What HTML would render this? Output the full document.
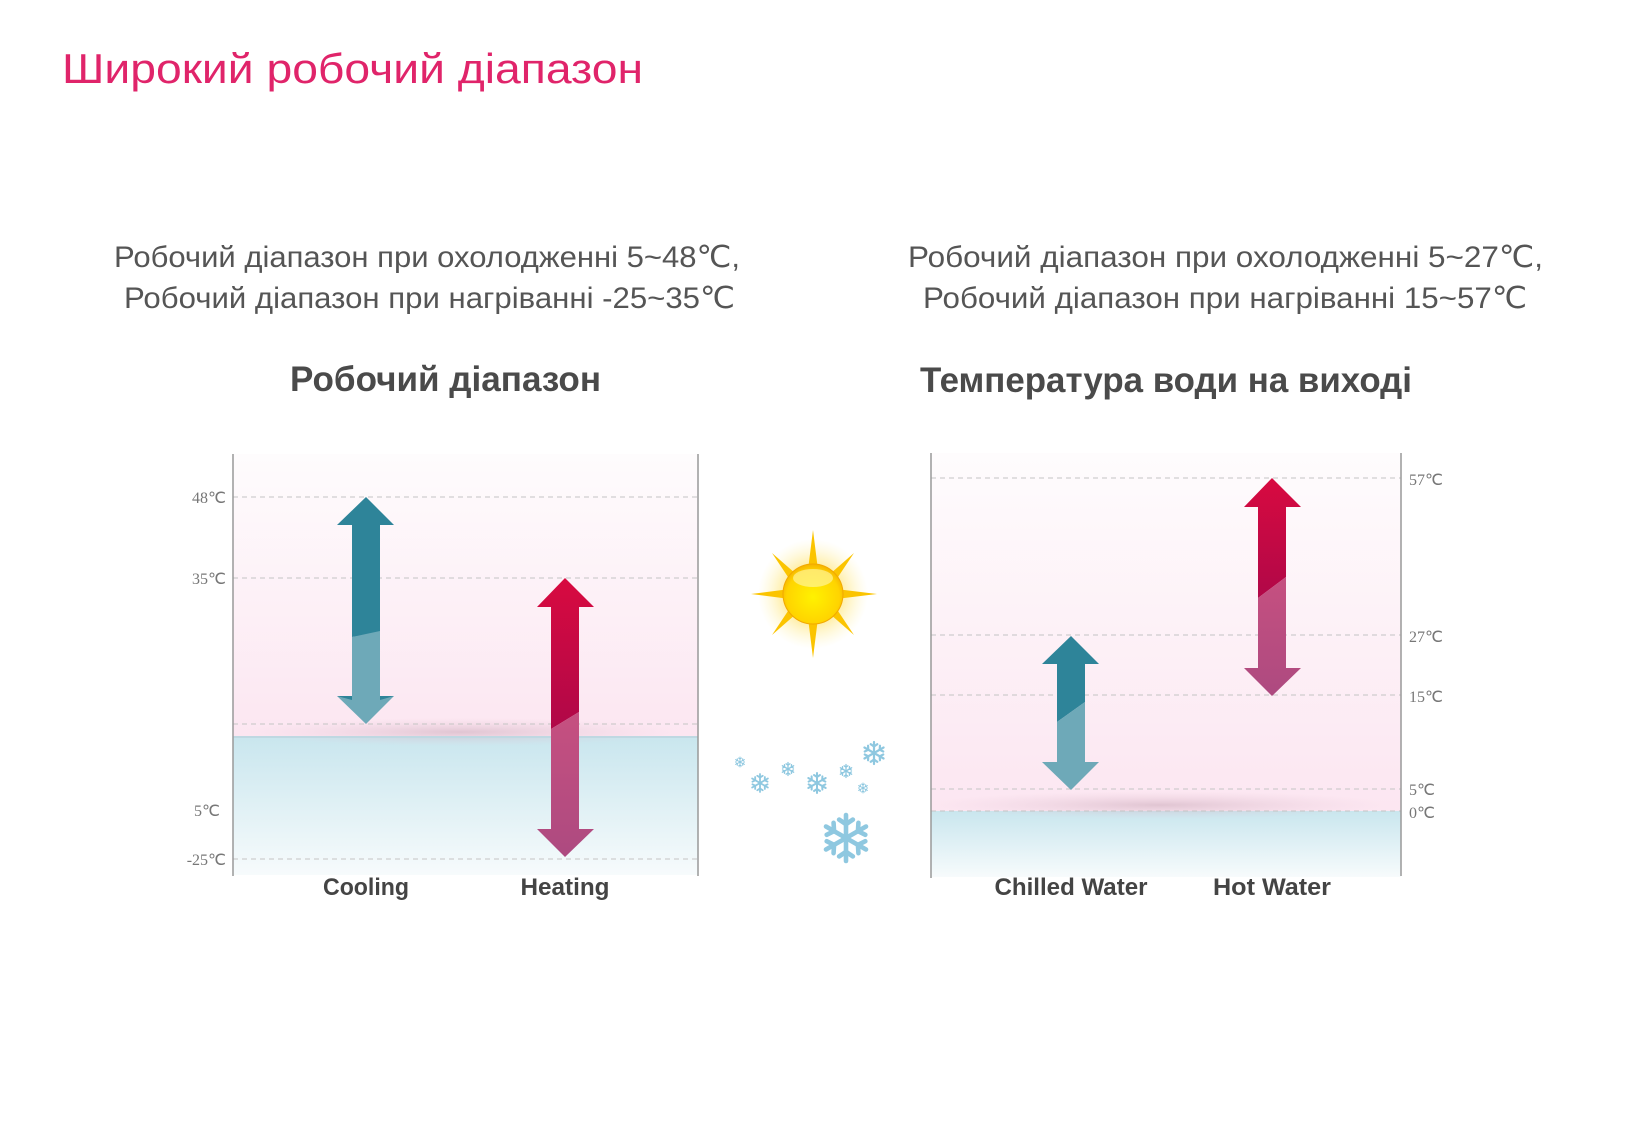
<!DOCTYPE html>
<html><head><meta charset="utf-8"><style>
html,body{margin:0;padding:0;background:#fff;}
svg{display:block;}
</style></head><body>
<svg width="1625" height="1125" viewBox="0 0 1625 1125" xmlns="http://www.w3.org/2000/svg">
<defs>
<linearGradient id="pink" x1="0" y1="0" x2="0" y2="1">
<stop offset="0" stop-color="#fefcfd"/><stop offset="1" stop-color="#fce6f1"/></linearGradient>
<linearGradient id="blue" x1="0" y1="0" x2="0" y2="1">
<stop offset="0" stop-color="#c9e6ee"/><stop offset="1" stop-color="#f7fbfc"/></linearGradient>
<radialGradient id="shadow" cx="0.5" cy="0.5" r="0.5">
<stop offset="0" stop-color="#c9a9b8" stop-opacity="0.55"/><stop offset="1" stop-color="#e9c9d8" stop-opacity="0"/></radialGradient>
<radialGradient id="sunglow" cx="0.5" cy="0.5" r="0.5">
<stop offset="0.45" stop-color="#ffe680" stop-opacity="0.9"/><stop offset="1" stop-color="#fff6c0" stop-opacity="0"/></radialGradient>
<radialGradient id="suncore" cx="0.5" cy="0.55" r="0.55">
<stop offset="0" stop-color="#fff200"/><stop offset="0.8" stop-color="#ffd400"/><stop offset="1" stop-color="#f5b400"/></radialGradient>
<linearGradient id="hotTop" x1="0" y1="0" x2="0" y2="1"><stop offset="0" stop-color="#d80a40"/><stop offset="1" stop-color="#b00848"/></linearGradient>
<linearGradient id="hotBot" x1="0" y1="0" x2="0" y2="1"><stop offset="0" stop-color="#c65080"/><stop offset="1" stop-color="#ad4a80"/></linearGradient>
<g id="flake" stroke="#8fc8e0" stroke-width="2" stroke-linecap="round" fill="none">
<line x1="0" y1="-10" x2="0" y2="10"/><line x1="-8.7" y1="-5" x2="8.7" y2="5"/><line x1="-8.7" y1="5" x2="8.7" y2="-5"/>
<path d="M-3 -8 L0 -6 L3 -8 M-3 8 L0 6 L3 8 M-8.4 -1.4 L-5.2 -3 L-5.4 -6.6 M8.4 1.4 L5.2 3 L5.4 6.6 M-8.4 1.4 L-5.2 3 L-5.4 6.6 M8.4 -1.4 L5.2 -3 L5.4 -6.6"/>
</g>
</defs>

<text x="62" y="83" font-family="Liberation Sans, sans-serif" font-size="42" fill="#e0246a" textLength="581" lengthAdjust="spacingAndGlyphs">Широкий робочий діапазон</text>

<g font-family="Liberation Sans, sans-serif" font-size="30" fill="#555">
<text x="114" y="267" textLength="626" lengthAdjust="spacingAndGlyphs">Робочий діапазон при охолодженні 5~48℃,</text>
<text x="124" y="308" textLength="611" lengthAdjust="spacingAndGlyphs">Робочий діапазон при нагріванні -25~35℃</text>
<text x="908" y="267" textLength="635" lengthAdjust="spacingAndGlyphs">Робочий діапазон при охолодженні 5~27℃,</text>
<text x="923" y="308" textLength="604" lengthAdjust="spacingAndGlyphs">Робочий діапазон при нагріванні 15~57℃</text>
</g>
<g font-family="Liberation Sans, sans-serif" font-size="35" font-weight="bold" fill="#4a4a4a">
<text x="290" y="391" textLength="311" lengthAdjust="spacingAndGlyphs">Робочий діапазон</text>
<text x="920" y="392" textLength="492" lengthAdjust="spacingAndGlyphs">Температура води на виході</text>
</g>

<!-- Left chart -->
<rect x="233" y="454" width="465" height="283" fill="url(#pink)"/>
<rect x="233" y="737" width="465" height="138" fill="url(#blue)"/>
<ellipse cx="460" cy="732" rx="220" ry="14" fill="url(#shadow)"/>
<line x1="233" y1="737" x2="698" y2="737" stroke="#bfd8e2" stroke-width="2"/>
<g stroke="#c4c4c4" stroke-dasharray="5,4" stroke-width="1">
<line x1="233" y1="497" x2="698" y2="497"/><line x1="233" y1="578" x2="698" y2="578"/>
<line x1="233" y1="724" x2="698" y2="724"/><line x1="233" y1="859" x2="698" y2="859"/>
</g>
<line x1="233" y1="454" x2="233" y2="876" stroke="#999" stroke-width="1.5"/>
<line x1="698" y1="454" x2="698" y2="876" stroke="#999" stroke-width="1.5"/>
<g font-family="Liberation Serif, serif" font-size="16" fill="#777" text-anchor="end">
<text x="226" y="503">48℃</text><text x="226" y="584">35℃</text>
<text x="220" y="816">5℃</text><text x="226" y="865">-25℃</text>
</g>
<!-- cooling arrow -->
<polygon points="366,497 394,525 380,525 380,633 352,637 352,525 337,525" fill="#2e8499"/>
<polygon points="352,637 380,631 380,696 394,696 366,724 337,696 352,696" fill="#6ea9b8"/>
<polygon points="337,696 352,696 352,700" fill="#2e8499"/><polygon points="394,696 380,696 380,700" fill="#2e8499"/>
<!-- heating arrow -->
<polygon points="565,578 594,607 579,607 579,712 551,729 551,607 537,607" fill="url(#hotTop)"/>
<polygon points="551,729 579,712 579,829 594,829 565,857 537,829 551,829" fill="url(#hotBot)"/>
<g font-family="Liberation Sans, sans-serif" font-size="24" font-weight="bold" fill="#444" text-anchor="middle">
<text x="366" y="895" textLength="86" lengthAdjust="spacingAndGlyphs">Cooling</text>
<text x="565" y="895" textLength="89" lengthAdjust="spacingAndGlyphs">Heating</text>
<text x="1071" y="895" textLength="153" lengthAdjust="spacingAndGlyphs">Chilled Water</text>
<text x="1272" y="895" textLength="118" lengthAdjust="spacingAndGlyphs">Hot Water</text>
</g>

<!-- Right chart -->
<rect x="931" y="453" width="470" height="358" fill="url(#pink)"/>
<rect x="931" y="811" width="470" height="66" fill="url(#blue)"/>
<ellipse cx="1160" cy="805" rx="230" ry="14" fill="url(#shadow)"/>
<g stroke="#c4c4c4" stroke-dasharray="5,4" stroke-width="1">
<line x1="931" y1="478" x2="1401" y2="478"/><line x1="931" y1="635" x2="1401" y2="635"/>
<line x1="931" y1="695" x2="1401" y2="695"/><line x1="931" y1="789" x2="1401" y2="789"/>
<line x1="931" y1="811" x2="1401" y2="811"/>
</g>
<line x1="931" y1="453" x2="931" y2="878" stroke="#999" stroke-width="1.5"/>
<line x1="1401" y1="453" x2="1401" y2="876" stroke="#999" stroke-width="1.5"/>
<g font-family="Liberation Serif, serif" font-size="16" fill="#777">
<text x="1409" y="485">57℃</text><text x="1409" y="642">27℃</text>
<text x="1409" y="702">15℃</text><text x="1409" y="795">5℃</text><text x="1409" y="818">0℃</text>
</g>
<!-- chilled arrow -->
<polygon points="1071,636 1099,664 1085,664 1085,702 1057,722 1057,664 1042,664" fill="#2e8499"/>
<polygon points="1057,722 1085,702 1085,762 1099,762 1071,790 1042,762 1057,762" fill="#6ea9b8"/>
<!-- hot arrow -->
<polygon points="1272,478 1301,507 1286,507 1286,577 1258,598 1258,507 1244,507" fill="url(#hotTop)"/>
<polygon points="1258,598 1286,577 1286,668 1301,668 1272,696 1244,668 1258,668" fill="url(#hotBot)"/>

<!-- Sun -->
<circle cx="813" cy="594" r="55" fill="url(#sunglow)"/>
<g fill="#fbc400">
<polygon points="813,530 818,570 808,570"/><polygon points="813,658 818,618 808,618"/>
<polygon points="751,594 790,589 790,599"/><polygon points="877,594 836,589 836,599"/>
<polygon points="772,553 796,574 790,580"/><polygon points="854,553 830,574 836,580"/>
<polygon points="772,635 796,614 790,608"/><polygon points="854,635 830,614 836,608"/>
</g>
<circle cx="813" cy="594" r="30" fill="url(#suncore)" stroke="#f2a800" stroke-width="1"/>
<ellipse cx="813" cy="578" rx="20" ry="9" fill="#fff9b0" opacity="0.6"/>

<!-- Snowflakes -->
<use href="#flake" transform="translate(740,762) scale(0.5)"/>
<use href="#flake" transform="translate(760,783) scale(0.9)"/>
<use href="#flake" transform="translate(788,769) scale(0.65)"/>
<use href="#flake" transform="translate(817,783) scale(1)"/>
<use href="#flake" transform="translate(846,771) scale(0.65)"/>
<use href="#flake" transform="translate(863,788) scale(0.5)"/>
<use href="#flake" transform="translate(874,753) scale(1.1)"/>
<g transform="translate(846,838) scale(2.3)"><use href="#flake" style="stroke:#7dbcdc"/></g>
</svg>
</body></html>
